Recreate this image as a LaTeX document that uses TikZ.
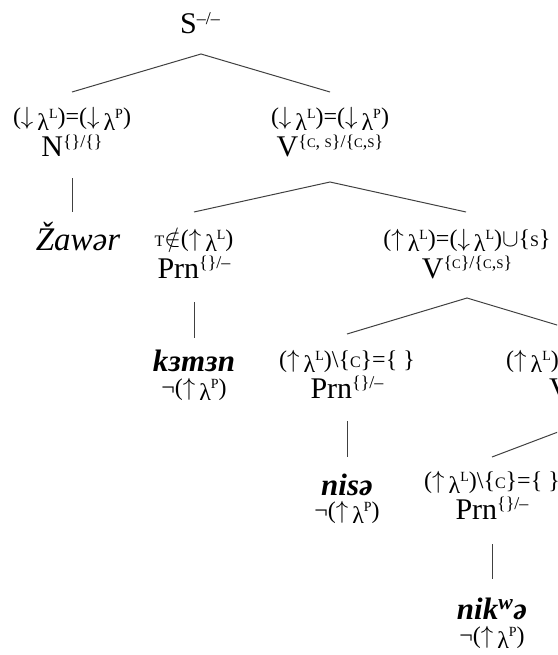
\documentclass[tikz,border=0pt]{standalone}
\usepackage{fontspec}
\setmainfont{Liberation Serif}
\newcommand\Fs{\fontsize{24}{26}\selectfont}
\newcommand\Ls{\fontsize{30}{32}\selectfont}
\newcommand\Ws{\fontsize{31}{33}\selectfont\itshape}
\newcommand\sm[1]{{\fontsize{16}{16}\selectfont #1}}
\newcommand\ssc[1]{{\fontsize{13}{13}\selectfont #1}}
\newcommand\supc[1]{\raisebox{0.28em}{\fontsize{14}{14}\selectfont #1}}
\newcommand\lam{\,\smash{\raisebox{-0.22em}{λ}}}
\newcommand\lL{\lam\supc{L}}
\newcommand\lP{\lam\supc{P}}
\newcommand\up{$\uparrow$}
\newcommand\dn{$\downarrow$}
\newcommand\lsup[1]{\raisebox{0.33em}{\fontsize{18}{18}\selectfont #1}}
\tikzset{
  lab/.style={anchor=base, inner sep=0pt, font=\Ls},
  frm/.style={anchor=base, inner sep=0pt, font=\Fs},
  wrd/.style={anchor=base, inner sep=0pt, font=\Ws},
  wrdb/.style={anchor=base, inner sep=0pt, font=\Ws\bfseries},
  edge/.style={line width=1pt, draw=black!75},
}
\begin{document}
\begin{tikzpicture}[x=1pt,y=-1pt]
\useasboundingbox (0,0) rectangle (557,655);
\clip (0,0) rectangle (557,655);
% level 0
\node[lab] (S) at (200,34) {S\lsup{–/–}};
% level 1
\node[frm] (fN) at (72,125) {(\dn\lL)=(\dn\lP)};
\node[lab] (N) at (72,157) {N\lsup{\{\}/\{\}}};
\node[frm] (fV1) at (330,125) {(\dn\lL)=(\dn\lP)};
\node[lab] (V1) at (330,157) {V\lsup{\{\ssc{C}, \ssc{S}\}/\{\ssc{C},\ssc{S}\}}};
% level 2
\node[wrd, font=\fontsize{33}{35}\selectfont\itshape] (w1) at (78,250) {Žawər};
\node[frm] (fP2) at (194,246) {\sm{T}$\notin$(\up\lL)};
\node[lab] (P2) at (194,278) {Prn\lsup{\{\}/–}};
\node[frm] (fV2) at (467,246) {(\up\lL)=(\dn\lL)$\cup$\{\sm{S}\}};
\node[lab] (V2) at (467,278) {V\lsup{\{\ssc{C}\}/\{\ssc{C},\ssc{S}\}}};
% level 3
\node[wrdb] (w2) at (194,371) {kɜmɜn};
\node[frm] (n2) at (194,395) {¬(\up\lP)};
\node[frm] (fP3) at (347,367) {(\up\lL)\textbackslash\{\sm{C}\}=\{ \}};
\node[lab] (P3) at (347,398) {Prn\lsup{\{\}/–}};
\node[frm,anchor=base west] (fV3) at (506,367) {(\up\lL)};
\node[lab,anchor=base west] (V3) at (549,398) {V};
% level 4
\node[wrdb] (w3) at (347,495) {nisə};
\node[frm] (n3) at (347,518) {¬(\up\lP)};
\node[frm] (fP4) at (492,488) {(\up\lL)\textbackslash\{\sm{C}\}=\{ \}};
\node[lab] (P4) at (492,519) {Prn\lsup{\{\}/–}};
\node[wrdb] (w4) at (492,619) {nik\textsuperscript{w}ə};
\node[frm] (n4) at (492,643) {¬(\up\lP)};
% connector end points
\coordinate (a0) at (201,54);
\coordinate (e1a) at (72,92);
\coordinate (e1b) at (330,92);
\coordinate (vN1) at (72,178);
\coordinate (vN2) at (72,212);
\coordinate (a1) at (330,182);
\coordinate (e2a) at (194,212);
\coordinate (e2b) at (466,212);
\coordinate (vP2a) at (194,302);
\coordinate (vP2b) at (194,338);
\coordinate (a2) at (467,298);
\coordinate (e3a) at (347,334);
\coordinate (e3b) at (587,334);
\coordinate (vP3a) at (347,421);
\coordinate (vP3b) at (347,457);
\coordinate (a3) at (587,421);
\coordinate (e4a) at (492,457);
\coordinate (vP4a) at (492,544);
\coordinate (vP4b) at (492,579);
% connectors
\draw[edge] (e1a) -- (a0) -- (e1b);
\draw[edge] (vN1) -- (vN2);
\draw[edge] (e2a) -- (a1) -- (e2b);
\draw[edge] (vP2a) -- (vP2b);
\draw[edge] (e3a) -- (a2) -- (e3b);
\draw[edge] (vP3a) -- (vP3b);
\draw[edge] (a3) -- (e4a);
\draw[edge] (vP4a) -- (vP4b);
\end{tikzpicture}
\end{document}
